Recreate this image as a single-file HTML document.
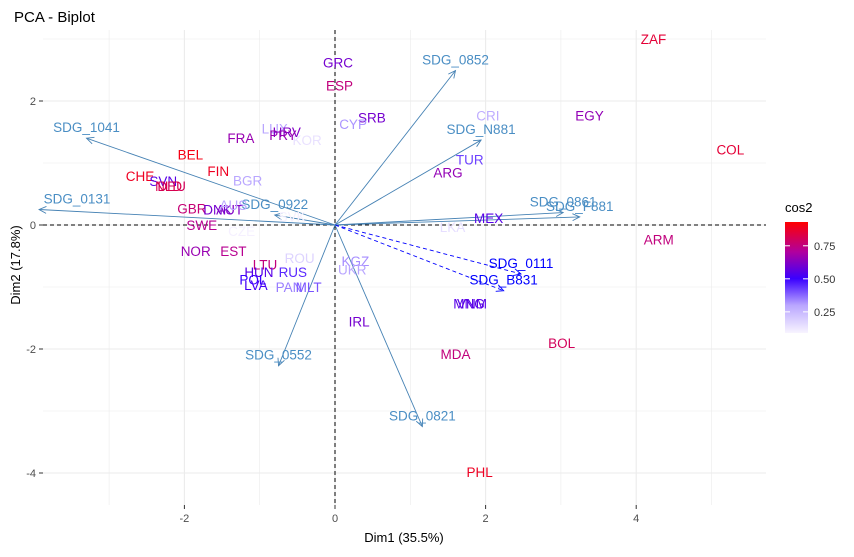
<!DOCTYPE html>
<html><head><meta charset="utf-8"><style>
body{margin:0;background:#fff;font-family:"Liberation Sans",sans-serif}
svg text{font-family:"Liberation Sans",sans-serif}
</style></head><body>
<svg id="chart" width="854" height="552" xmlns="http://www.w3.org/2000/svg">
<defs>
<linearGradient id="cb" x1="0" y1="1" x2="0" y2="0">
<stop offset="0" stop-color="#f8f4ff"/><stop offset="0.25" stop-color="#b9a6ff"/>
<stop offset="0.49" stop-color="#3a00ff"/><stop offset="0.73" stop-color="#b0009e"/>
<stop offset="1" stop-color="#ff0000"/></linearGradient>
</defs>
<text x="14" y="22" font-size="15" fill="#000">PCA - Biplot</text>
<g id="grid"></g><g id="axes"></g><g id="vars"></g><g id="inds"></g>
<text x="404" y="542" font-size="13" text-anchor="middle">Dim1 (35.5%)</text>
<text transform="translate(20,265) rotate(-90)" font-size="13" text-anchor="middle">Dim2 (17.8%)</text>
<g>
<text x="785" y="212" font-size="13">cos2</text>
<rect x="785" y="222" width="23" height="111" fill="url(#cb)"/>
<g id="legticks"></g>
</g>
</svg>
<script>
const xTicks=[-2,0,2,4];
const yTicks=[-4,-2,0,2];
const indNames=["ZAF","EGY","COL","ARM","GRC","ESP","SRB","CYP","CRI","TUR","ARG","MEX","LKA","KGZ","UKR","IRL","MNG","VNM","MDA","BOL","PHL","LUX","HRV","PRY","KOR","FRA","BEL","FIN","BGR","CHE","SVN","DEU","NLD","GBR","DNK","AUT","AUS","SWE","CZE","SVK","NOR","EST","ROU","LTU","HUN","RUS","POL","LVA","PAN","MLT"];
const indX=[4.23,3.38,5.25,4.3,0.04,0.06,0.49,0.24,2.03,1.79,1.5,2.04,1.56,0.27,0.23,0.32,1.78,1.82,1.6,3.01,1.92,-0.8,-0.64,-0.69,-0.37,-1.25,-1.92,-1.55,-1.16,-2.59,-2.28,-2.17,-2.21,-1.9,-1.56,-1.4,-1.35,-1.77,-1.24,-0.57,-1.85,-1.35,-0.47,-0.93,-1.01,-0.56,-1.09,-1.05,-0.61,-0.35];
const indY=[3.0,1.77,1.22,-0.23,2.62,2.25,1.73,1.63,1.77,1.06,0.85,0.11,-0.03,-0.58,-0.72,-1.56,-1.27,-1.27,-2.08,-1.9,-3.98,1.56,1.5,1.45,1.37,1.4,1.14,0.87,0.72,0.79,0.71,0.63,0.63,0.27,0.25,0.25,0.32,0.0,-0.1,0.14,-0.42,-0.42,-0.53,-0.64,-0.76,-0.76,-0.88,-0.97,-1.0,-1.0];
const indCos2=[0.85,0.65,0.85,0.75,0.6,0.75,0.6,0.32,0.28,0.42,0.65,0.55,0.15,0.33,0.3,0.6,0.55,0.55,0.75,0.8,0.88,0.3,0.62,0.66,0.14,0.66,0.9,0.88,0.3,0.88,0.55,0.8,0.82,0.76,0.6,0.62,0.3,0.72,0.1,0.1,0.66,0.72,0.18,0.75,0.55,0.45,0.5,0.52,0.35,0.4];
const varNames=["SDG_0852","SDG_N881","SDG_0861","SDG_F881","SDG_0111","SDG_B831","SDG_0821","SDG_0552","SDG_0922","SDG_1041","SDG_0131"];
const varX=[1.6,1.94,3.03,3.25,2.47,2.24,1.16,-0.75,-0.8,-3.3,-3.93];
const varY=[2.49,1.37,0.2,0.13,-0.79,-1.06,-3.25,-2.27,0.16,1.4,0.25];
const varDashed=[0,0,0,0,1,1,0,0,0,0,0];
const legVals=[0.25,0.5,0.75];

const NS="http://www.w3.org/2000/svg";
const X0=335,XS=75.3,Y0=225,YS=62,PL=43,PR=766,PT=30,PB=505;
const sx=v=>X0+v*XS, sy=v=>Y0-v*YS;
function mk(t,a,p){const e=document.createElementNS(NS,t);for(const k in a)e.setAttribute(k,a[k]);p.appendChild(e);return e;}
function hex(c){return c.map(v=>Math.round(v)).map(v=>v.toString(16).padStart(2,'0')).join('');}
const stops=[[0.09,[248,244,255]],[0.3,[185,166,255]],[0.5,[58,0,255]],[0.7,[176,0,158]],[0.93,[255,0,0]]];
function col(v){if(v<=stops[0][0])return '#'+hex(stops[0][1]);for(let i=1;i<stops.length;i++){if(v<=stops[i][0]){const a=stops[i-1],b=stops[i],t=(v-a[0])/(b[0]-a[0]);return '#'+hex(a[1].map((c,j)=>c+(b[1][j]-c)*t));}}return '#ff0000';}

const grid=document.getElementById('grid');
for(let v=-3;v<=5;v++){const l=mk('line',{x1:sx(v),x2:sx(v),y1:PT,y2:PB,stroke:'#ebebeb','stroke-width':v%2===0?1.1:0.6},grid);}
for(let v=-4;v<=3;v++){const l=mk('line',{x1:PL,x2:PR,y1:sy(v),y2:sy(v),stroke:'#ebebeb','stroke-width':v%2===0?1.1:0.6},grid);}
const ax=document.getElementById('axes');
let h=mk('line',{x1:PL,x2:PR,y1:sy(0),y2:sy(0),stroke:'#000','stroke-dasharray':'4,3'},ax);

let vl=mk('line',{x1:sx(0),x2:sx(0),y1:PT,y2:PB,stroke:'#000','stroke-dasharray':'4,3'},ax);

xTicks.forEach(v=>{mk('line',{x1:sx(v),x2:sx(v),y1:PB,y2:PB+4,stroke:'#333'},ax);const t=mk('text',{x:sx(v),y:PB+17,'font-size':11,fill:'#4d4d4d','text-anchor':'middle'},ax);t.textContent=v;});
yTicks.forEach(v=>{mk('line',{x1:PL-4,x2:PL,y1:sy(v),y2:sy(v),stroke:'#333'},ax);const t=mk('text',{x:PL-7,y:sy(v)+4,'font-size':11,fill:'#4d4d4d','text-anchor':'end'},ax);t.textContent=v;});

const vg=document.getElementById('vars');
varNames.forEach((n,i)=>{
 const x2=sx(varX[i]),y2=sy(varY[i]),x1=sx(0),y1=sy(0);
 const c=varDashed[i]?'#0000ff':'#4682b4';
 const g=mk('g',{},vg);
 
 
 mk('line',{x1,y1,x2,y2,stroke:c,'stroke-width':0.9,'stroke-dasharray':varDashed[i]?'4,3':'none'},g);
 const a=Math.atan2(y2-y1,x2-x1),L=8,w=0.45;
 mk('polyline',{points:`${x2-L*Math.cos(a-w)},${y2-L*Math.sin(a-w)} ${x2},${y2} ${x2-L*Math.cos(a+w)},${y2-L*Math.sin(a+w)}`,fill:'none',stroke:c,'stroke-width':0.9},g);
 const lx=Math.max(x2,PL+34);
 const t=mk('text',{x:lx,y:y2-6,'font-size':13.5,fill:varDashed[i]?'#0000ff':'#4a8ec4','text-anchor':'middle'},vg);
 t.textContent=n;
 
 
});
const ig=document.getElementById('inds');
indNames.forEach((n,i)=>{
 const t=mk('text',{x:sx(indX[i]),y:sy(indY[i])+5,'font-size':13.5,fill:col(indCos2[i]),'text-anchor':'middle'},ig);
 t.textContent=n;
 
 
});
const lt=document.getElementById('legticks');
legVals.forEach(v=>{const y=333-(v-0.09)/(0.93-0.09)*111;
 mk('line',{x1:785,x2:790,y1:y,y2:y,stroke:'#fff'},lt);mk('line',{x1:803,x2:808,y1:y,y2:y,stroke:'#fff'},lt);
 const t=mk('text',{x:814,y:y+4,'font-size':11,fill:'#333'},lt);t.textContent=v.toFixed(2);
 });
</script>
</body></html>
